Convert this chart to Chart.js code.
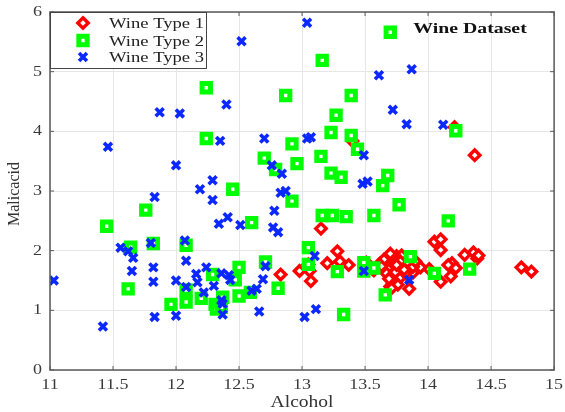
<!DOCTYPE html>
<html>
<head>
<meta charset="utf-8">
<script src="https://cdn.jsdelivr.net/npm/chart.js@4.4.0/dist/chart.umd.min.js"></script>
<style>
  html, body { margin: 0; padding: 0; background: #fff; }
  #wrap { width: 565px; height: 412px; }
</style>
</head>
<body>
<div id="wrap"><canvas id="wineChart"></canvas></div>
<script>
// Wine Type 1 (red diamonds)
const type1Alcohol = [14.21, 14.37, 13.40, 14.05, 14.10, 14.10, 13.15, 13.28, 12.83, 12.98,
  13.05, 13.06, 13.07, 13.20, 13.30, 13.37, 13.51, 13.57, 13.85, 13.94,
  14.01, 14.10, 14.18, 14.19, 14.22, 14.29, 14.36, 14.39, 14.40, 14.74,
  14.82, 13.75, 13.88, 14.16, 13.55, 13.62, 13.65, 13.68, 13.70, 13.72,
  13.73, 13.74, 13.76, 13.77, 13.78, 13.80, 13.72, 13.82, 13.79, 13.84,
  13.70, 13.76, 13.88, 13.67, 13.71, 13.90, 13.63, 13.74, 13.78, 13.81,
  13.69, 13.75];
const type1Malic = [4.07, 3.60, 3.84, 2.15, 2.19, 2.01, 2.37, 1.99, 1.60, 1.66,
  1.77, 1.66, 1.49, 1.79, 1.82, 1.76, 1.80, 1.67, 1.36, 1.72,
  1.69, 1.48, 1.57, 1.79, 1.71, 1.93, 1.97, 1.87, 1.92, 1.72,
  1.65, 1.91, 1.63, 1.76, 1.71, 1.79, 1.85, 1.70, 1.95, 1.60,
  1.78, 1.50, 1.68, 1.87, 1.55, 1.73, 1.45, 1.62, 1.92, 1.80,
  1.40, 1.43, 1.73, 1.62, 1.37, 1.82, 1.74, 1.64, 1.82, 1.68,
  1.53, 1.76];

// Wine Type 2 (green squares)
const type2Alcohol = [13.70, 13.16, 12.24, 12.87, 13.39, 13.27, 14.22, 12.24, 12.70, 12.79,
  12.45, 13.23, 13.39, 13.44, 12.92, 12.96, 13.15, 13.23, 13.31, 13.68,
  13.64, 12.92, 13.77, 14.16, 11.76, 11.45, 13.16, 13.24, 13.35, 13.57,
  12.60, 13.05, 11.64, 11.62, 11.82, 11.96, 12.08, 12.08, 12.08, 12.20,
  12.29, 12.31, 12.32, 12.37, 12.36, 12.47, 12.50, 12.50, 12.59, 12.71,
  12.81, 13.05, 13.28, 13.33, 13.49, 13.49, 13.57, 13.66, 13.86, 14.05, 14.33];
const type2Malic = [5.66, 5.19, 4.73, 4.60, 4.60, 4.27, 4.01, 3.88, 3.55, 3.36,
  3.03, 3.98, 3.93, 3.70, 3.79, 3.46, 3.58, 3.30, 3.23, 3.26,
  3.09, 2.83, 2.77, 2.50, 2.68, 2.41, 2.59, 2.59, 2.57, 2.59,
  2.47, 2.05, 2.06, 1.36, 2.12, 1.10, 2.09, 1.34, 1.14, 1.20,
  1.60, 1.10, 1.02, 1.22, 1.05, 1.51, 1.72, 1.24, 1.30, 1.81,
  1.37, 1.77, 1.65, 0.93, 1.80, 1.66, 1.71, 1.26, 1.90, 1.62, 1.69];

// Wine Type 3 (blue crosses)
const type3Alcohol = [13.04, 12.52, 13.61, 13.87, 12.40, 11.87, 12.03, 13.72, 13.83, 14.12,
  11.46, 12.35, 12.70, 12.00, 12.76, 12.29, 12.19, 11.83, 12.29, 12.83,
  13.04, 13.07, 13.49, 12.84, 13.48, 13.52, 12.87, 12.78, 12.41, 12.34,
  12.51, 12.77, 12.81, 11.03, 11.42, 11.56, 11.62, 11.66, 11.65, 11.80,
  11.82, 11.82, 11.83, 12.00, 12.00, 12.07, 12.08, 12.08, 12.16, 12.17,
  12.22, 12.24, 12.30, 12.36, 12.37, 12.37, 12.36, 12.42, 12.43, 12.60,
  12.64, 12.66, 12.69, 12.71, 13.10, 13.02, 13.11, 13.49, 13.85];
const type3Malic = [5.82, 5.51, 4.94, 5.04, 4.45, 4.32, 4.30, 4.36, 4.12, 4.11,
  3.74, 3.84, 3.88, 3.43, 3.43, 3.18, 3.03, 2.90, 2.85, 2.97,
  3.88, 3.90, 3.60, 3.29, 3.12, 3.16, 3.00, 2.67, 2.56, 2.45,
  2.43, 2.39, 2.31, 1.50, 0.73, 2.05, 1.99, 1.88, 1.66, 2.13,
  1.72, 1.48, 0.89, 0.91, 1.50, 2.17, 1.83, 1.39, 1.61, 1.47,
  1.30, 1.72, 1.41, 1.17, 1.11, 0.93, 1.62, 1.59, 1.51, 1.33,
  1.36, 0.98, 1.52, 1.74, 1.91, 0.89, 1.02, 1.66, 1.51];

const xTicks = [11, 11.5, 12, 12.5, 13, 13.5, 14, 14.5, 15];
const yTicks = [0, 1, 2, 3, 4, 5, 6];
const seriesNames = ["Wine Type 1", "Wine Type 2", "Wine Type 3"];

function toPoints(xs, ys) {
  return xs.map((x, i) => ({ x: x, y: ys[i] }));
}

const styles = [
  { pointStyle: "rectRot", radius: 5.2, borderWidth: 3.4, borderColor: "#ff0000", backgroundColor: "#ffffff" },
  { pointStyle: "rect", radius: 5.9, borderWidth: 5, borderColor: "#00ff00", backgroundColor: "#ffffff" },
  { pointStyle: "crossRot", radius: 5.6, borderWidth: 3.6, borderColor: "#0a28ff", backgroundColor: "#0a28ff" }
];

// stretched text, the reference text is a bit wider than Times
function wideText(ctx, text, x, y, align, sx) {
  ctx.save();
  ctx.translate(x, y);
  ctx.scale(sx, 1);
  ctx.textAlign = align;
  ctx.fillText(text, 0, 0);
  ctx.restore();
}

function drawMarker(ctx, st, x, y) {
  const r = st.radius;
  ctx.save();
  ctx.lineWidth = st.borderWidth;
  ctx.strokeStyle = st.borderColor;
  ctx.fillStyle = st.backgroundColor;
  ctx.beginPath();
  if (st.pointStyle === "rectRot") {
    ctx.moveTo(x, y - r); ctx.lineTo(x + r, y); ctx.lineTo(x, y + r); ctx.lineTo(x - r, y);
    ctx.closePath(); ctx.fill(); ctx.stroke();
  } else if (st.pointStyle === "rect") {
    const s = r * Math.SQRT1_2;
    ctx.rect(x - s, y - s, 2 * s, 2 * s); ctx.fill(); ctx.stroke();
  } else {
    const d = r * Math.SQRT1_2;
    ctx.moveTo(x - d, y - d); ctx.lineTo(x + d, y + d);
    ctx.moveTo(x + d, y - d); ctx.lineTo(x - d, y + d);
    ctx.stroke();
  }
  ctx.restore();
}

const framePlugin = {
  id: "frame",
  afterDraw(chart) {
    const ctx = chart.ctx;
    const a = chart.chartArea;
    const xs = chart.scales.x, ys = chart.scales.y;
    ctx.save();
    // box
    ctx.strokeStyle = "#5a5a5a";
    ctx.lineWidth = 1.5;
    ctx.strokeRect(a.left, a.top, a.right - a.left, a.bottom - a.top);
    // inner ticks
    ctx.lineWidth = 1;
    ctx.beginPath();
    xTicks.forEach(v => {
      const px = xs.getPixelForValue(v);
      ctx.moveTo(px, a.bottom); ctx.lineTo(px, a.bottom - 4);
      ctx.moveTo(px, a.top); ctx.lineTo(px, a.top + 4);
    });
    yTicks.forEach(v => {
      const py = ys.getPixelForValue(v);
      ctx.moveTo(a.left, py); ctx.lineTo(a.left + 4, py);
      ctx.moveTo(a.right, py); ctx.lineTo(a.right - 4, py);
    });
    ctx.stroke();

    // tick labels
    ctx.fillStyle = "#3a3a3a";
    ctx.font = "15px 'Liberation Serif', serif";
    ctx.textBaseline = "middle";
    xTicks.forEach(v => {
      wideText(ctx, String(v), xs.getPixelForValue(v), a.bottom + 15, "center", 1.2);
    });
    yTicks.forEach(v => {
      wideText(ctx, String(v), a.left - 8, ys.getPixelForValue(v), "right", 1.2);
    });

    // axis titles
    ctx.fillStyle = "#333";
    ctx.font = "16px 'Liberation Serif', serif";
    wideText(ctx, "Alcohol", (a.left + a.right) / 2, 403, "center", 1.22);
    ctx.save();
    ctx.translate(15, 194);
    ctx.rotate(-Math.PI / 2);
    ctx.textAlign = "center";
    ctx.fillText("Malicacid", 0, 0);
    ctx.restore();

    // title inside plot
    ctx.fillStyle = "#111";
    ctx.font = "bold 15px 'Liberation Serif', serif";
    wideText(ctx, "Wine Dataset", 470, 29, "center", 1.32);

    // legend box
    ctx.fillStyle = "#fff";
    ctx.fillRect(a.left, a.top, 156, 56);
    ctx.strokeStyle = "#444";
    ctx.lineWidth = 1;
    ctx.strokeRect(a.left + 0.5, a.top + 0.5, 156, 56);
    const rowsY = [23, 40.5, 57];
    seriesNames.forEach((name, i) => {
      drawMarker(ctx, styles[i], 83, rowsY[i]);
      ctx.fillStyle = "#222";
      ctx.font = "15.5px 'Liberation Serif', serif";
      ctx.textBaseline = "middle";
      wideText(ctx, name, 109, rowsY[i] + 1, "left", 1.2);
    });
    ctx.restore();
  }
};

const datasets = [
  Object.assign({ label: seriesNames[0], data: toPoints(type1Alcohol, type1Malic), order: 3 }, styles[0]),
  Object.assign({ label: seriesNames[1], data: toPoints(type2Alcohol, type2Malic), order: 2 }, styles[1]),
  Object.assign({ label: seriesNames[2], data: toPoints(type3Alcohol, type3Malic), order: 1 }, styles[2])
];
datasets.forEach(d => {
  d.pointRadius = d.radius;
  d.pointBorderWidth = d.borderWidth;
  d.pointBorderColor = d.borderColor;
  d.pointBackgroundColor = d.backgroundColor;
});

new Chart(document.getElementById("wineChart").getContext("2d"), {
  type: "scatter",
  data: { datasets: datasets },
  options: {
    responsive: true,
    maintainAspectRatio: false,
    animation: false,
    devicePixelRatio: 1,
    events: [],
    layout: { padding: { left: 0, top: 12, right: 9, bottom: 0 } },
    plugins: { legend: { display: false }, tooltip: { enabled: false } },
    scales: {
      x: {
        type: "linear", min: 11, max: 15,
        afterFit: s => { s.height = 42; },
        afterBuildTicks: s => { s.ticks = xTicks.map(v => ({ value: v })); },
        ticks: { display: false },
        grid: { color: "#e6e6e6", drawTicks: false },
        border: { display: false }
      },
      y: {
        type: "linear", min: 0, max: 6,
        afterFit: s => { s.width = 50; },
        afterBuildTicks: s => { s.ticks = yTicks.map(v => ({ value: v })); },
        ticks: { display: false },
        grid: { color: "#e6e6e6", drawTicks: false },
        border: { display: false }
      }
    }
  },
  plugins: [framePlugin]
});
</script>
</body>
</html>
